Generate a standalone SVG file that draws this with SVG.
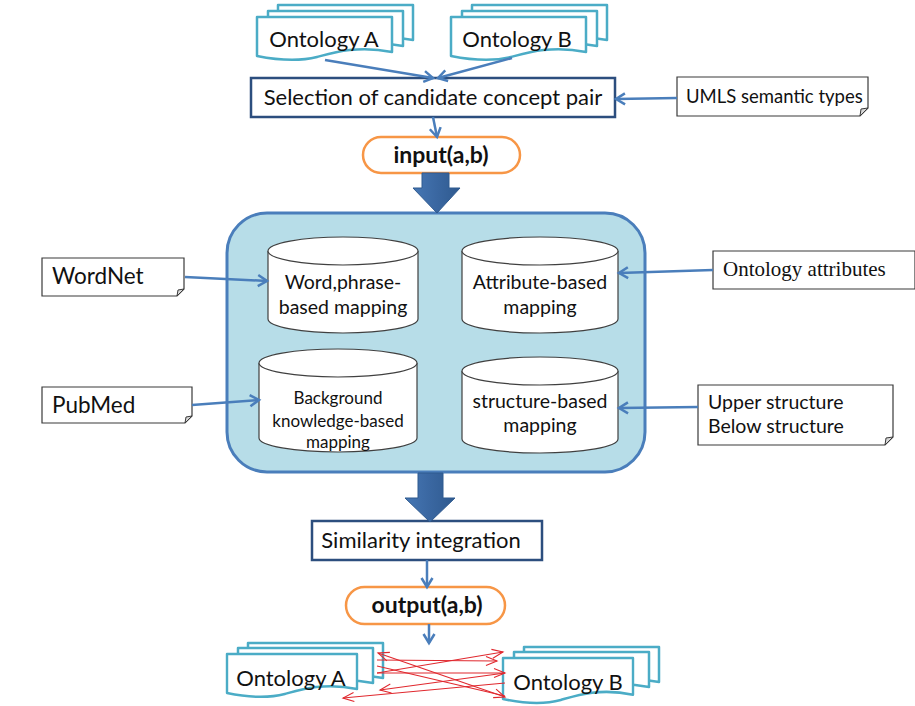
<svg xmlns="http://www.w3.org/2000/svg" width="915" height="706" viewBox="0 0 915 706">
  <style>
    .t { font-family: Lato, "Open Sans", "Liberation Sans", sans-serif; fill: #111; }
    .serif { font-family: "Liberation Serif", "Times New Roman", serif; fill: #111; }
    .page { fill: #fff; stroke: #4BACC6; stroke-width: 2.5; stroke-linejoin: round; }
    .note { fill: #fff; stroke: #3a3a3a; stroke-width: 1.2; }
    .fold { fill: #d8d8d8; stroke: #3a3a3a; stroke-width: 1; }
    .box { fill: #fff; stroke: #2C4E7E; stroke-width: 2.5; }
    .pill { fill: #fff; stroke: #F79646; stroke-width: 2.5; }
    .cyl { fill: #fff; stroke: #404040; stroke-width: 1.2; }
    .link { fill: none; stroke: #4A7EBB; stroke-width: 2.5; marker-end: url(#vb); }
    .red { fill: none; stroke: #E0282E; stroke-width: 1.1; }
    .block { stroke: #2F5A8F; stroke-width: 1; fill: url(#blk); }
  </style>
  <defs>
    <!-- single document page with wavy bottom edge, 135 x 40 -->
    <path id="doc" d="M0,0 H135 V35 C100,28 75,36 60,40 C40,45 20,43 0,39 Z"/>
    <marker id="vb" markerUnits="userSpaceOnUse" markerWidth="14" markerHeight="14" refX="11" refY="7" orient="auto">
      <path d="M2,1.5 L11,7 L2,12.5" fill="none" stroke="#4A7EBB" stroke-width="2.5"/>
    </marker>
    <marker id="vr" markerUnits="userSpaceOnUse" markerWidth="14" markerHeight="12" refX="12" refY="6" orient="auto-start-reverse">
      <path d="M1,1.5 L12,6 L1,10.5" fill="none" stroke="#E0282E" stroke-width="1.1"/>
    </marker>
    <linearGradient id="blk" x1="0" y1="0" x2="1" y2="0">
      <stop offset="0" stop-color="#4677B4"/>
      <stop offset="0.5" stop-color="#3A67A1"/>
      <stop offset="1" stop-color="#2F5A8F"/>
    </linearGradient>
  </defs>

  <!-- Ontology A (source) -->
  <g id="ontologyA-top">
    <use href="#doc" class="page" transform="translate(278,5)"/>
    <use href="#doc" class="page" transform="translate(268,11)"/>
    <use href="#doc" class="page" transform="translate(257,17)"/>
    <text class="t" x="324" y="47" font-size="22" text-anchor="middle">Ontology A</text>
  </g>

  <!-- Ontology B (source) -->
  <g id="ontologyB-top">
    <use href="#doc" class="page" transform="translate(472,5)"/>
    <use href="#doc" class="page" transform="translate(462,11)"/>
    <use href="#doc" class="page" transform="translate(451,17)"/>
    <text class="t" x="517" y="47" font-size="22" text-anchor="middle">Ontology B</text>
  </g>

  <g id="selection">
    <rect class="box" x="251" y="78" width="364" height="39"/>
    <text class="t" x="433" y="105" font-size="22" text-anchor="middle">Selection of candidate concept pair</text>
  </g>

  <g id="umls">
    <path class="note" d="M677,77 H868 V108 L860,116 H677 Z"/>
    <path class="fold" d="M868,108 L861,109 L860,116 Z"/>
    <text class="t" x="686" y="103" font-size="18.5">UMLS semantic types</text>
  </g>

  <g id="input">
    <rect class="pill" x="363" y="137" width="157" height="36" rx="18"/>
    <text class="t" x="441" y="163" font-size="23" font-weight="bold" text-anchor="middle">input(a,b)</text>
  </g>

  <!-- matching panel -->
  <g id="panel">
    <rect x="227" y="213" width="418" height="259" rx="40" fill="#B7DDE8" stroke="#4A7EBB" stroke-width="3"/>
  </g>

  <g id="word-phrase">
    <path class="cyl" d="M268,251 V319 A75,14 0 0 0 418,319 V251"/>
    <ellipse class="cyl" cx="343" cy="251" rx="75" ry="14"/>
    <text class="t" x="343" y="289" font-size="19.5" text-anchor="middle">Word,phrase-</text>
    <text class="t" x="343" y="314" font-size="19.5" text-anchor="middle">based mapping</text>
  </g>

  <g id="attribute">
    <path class="cyl" d="M462,251 V319 A78,14 0 0 0 618,319 V251"/>
    <ellipse class="cyl" cx="540" cy="251" rx="78" ry="14"/>
    <text class="t" x="540" y="289" font-size="19.5" text-anchor="middle">Attribute-based</text>
    <text class="t" x="540" y="314" font-size="19.5" text-anchor="middle">mapping</text>
  </g>

  <g id="background">
    <path class="cyl" d="M259,363 V438 A79,14 0 0 0 417,438 V363"/>
    <ellipse class="cyl" cx="338" cy="363" rx="79" ry="14"/>
    <text class="t" x="338" y="404" font-size="17" text-anchor="middle">Background</text>
    <text class="t" x="338" y="427" font-size="17" text-anchor="middle">knowledge-based</text>
    <text class="t" x="338" y="448" font-size="17" text-anchor="middle">mapping</text>
  </g>

  <g id="structure">
    <path class="cyl" d="M462,371 V439 A78,14 0 0 0 618,439 V371"/>
    <ellipse class="cyl" cx="540" cy="371" rx="78" ry="14"/>
    <text class="t" x="540" y="408" font-size="19.5" text-anchor="middle">structure-based</text>
    <text class="t" x="540" y="432" font-size="19.5" text-anchor="middle">mapping</text>
  </g>

  <g id="wordnet">
    <path class="note" d="M42,258 H184 V289 L177,296 H42 Z"/>
    <path class="fold" d="M184,289 L178,290 L177,296 Z"/>
    <text class="t" x="52" y="284" font-size="22.5">WordNet</text>
  </g>

  <g id="pubmed">
    <path class="note" d="M42,387 H192 V416 L185,423 H42 Z"/>
    <path class="fold" d="M192,416 L186,417 L185,423 Z"/>
    <text class="t" x="52" y="413" font-size="22.5">PubMed</text>
  </g>

  <g id="ontology-attributes">
    <path class="note" d="M713,251 H915 V289 H713 Z"/>
    <text class="serif" x="723" y="276" font-size="21">Ontology attributes</text>
  </g>

  <g id="upper-below">
    <path class="note" d="M698,385 H893 V437 L885,445 H698 Z"/>
    <path class="fold" d="M893,437 L886,438 L885,445 Z"/>
    <text class="t" x="708" y="409" font-size="19.5">Upper structure</text>
    <text class="t" x="708" y="433" font-size="19.5">Below structure</text>
  </g>

  <g id="similarity">
    <rect class="box" x="312" y="521" width="230" height="39"/>
    <text class="t" x="421" y="548" font-size="22" text-anchor="middle">Similarity integration</text>
  </g>

  <g id="output">
    <rect class="pill" x="346" y="587" width="159" height="37" rx="18.5"/>
    <text class="t" x="427" y="613" font-size="23" font-weight="bold" text-anchor="middle">output(a,b)</text>
  </g>

  <!-- Ontology A (result) -->
  <g id="ontologyA-bottom">
    <use href="#doc" class="page" transform="translate(248,643)"/>
    <use href="#doc" class="page" transform="translate(238,648)"/>
    <use href="#doc" class="page" transform="translate(227,654) scale(0.963,1)"/>
    <text class="t" x="291" y="686" font-size="22" text-anchor="middle">Ontology A</text>
  </g>

  <!-- Ontology B (result) -->
  <g id="ontologyB-bottom">
    <use href="#doc" class="page" transform="translate(524,647)"/>
    <use href="#doc" class="page" transform="translate(514,652)"/>
    <use href="#doc" class="page" transform="translate(503,658) scale(0.963,1.05)"/>
    <text class="t" x="568" y="690" font-size="22" text-anchor="middle">Ontology B</text>
  </g>

  <!-- connectors, drawn over the panel -->
  <g id="connectors">
    <path class="link" d="M325,60 L433,78"/>
    <path class="link" d="M512,58 L438,78"/>
    <path class="link" d="M677,98 L616,99"/>
    <path class="link" d="M433,117 L437,137"/>
    <path class="link" d="M185,277 L267,281"/>
    <path class="link" d="M192,405 L259,400"/>
    <path class="link" d="M713,270 L619,273"/>
    <path class="link" d="M698,407 L619,408"/>
    <path class="link" d="M427,560 L427,587"/>
    <path class="link" d="M429,624 L429,643"/>
    <path class="block" d="M422,173 H449 V188 H460 L437,213 L413,188 H422 Z"/>
    <path class="block" d="M418,473 H443 V498 H455 L430,522 L405,498 H418 Z"/>
  </g>

  <!-- pairwise correspondences between the two ontologies -->
  <g id="correspondences">
    <path class="red" d="M377,673 L503,652" marker-end="url(#vr)"/>
    <path class="red" d="M377,660 L497,661" marker-end="url(#vr)"/>
    <path class="red" d="M377,673 L505,673" marker-end="url(#vr)"/>
    <path class="red" d="M378,653 L505,697" marker-start="url(#vr)" marker-end="url(#vr)"/>
    <path class="red" d="M505,673 L380,690" marker-end="url(#vr)"/>
    <path class="red" d="M505,683 L343,698" marker-end="url(#vr)"/>
    <path class="red" d="M377,666 L505,696"/>
  </g>
</svg>
